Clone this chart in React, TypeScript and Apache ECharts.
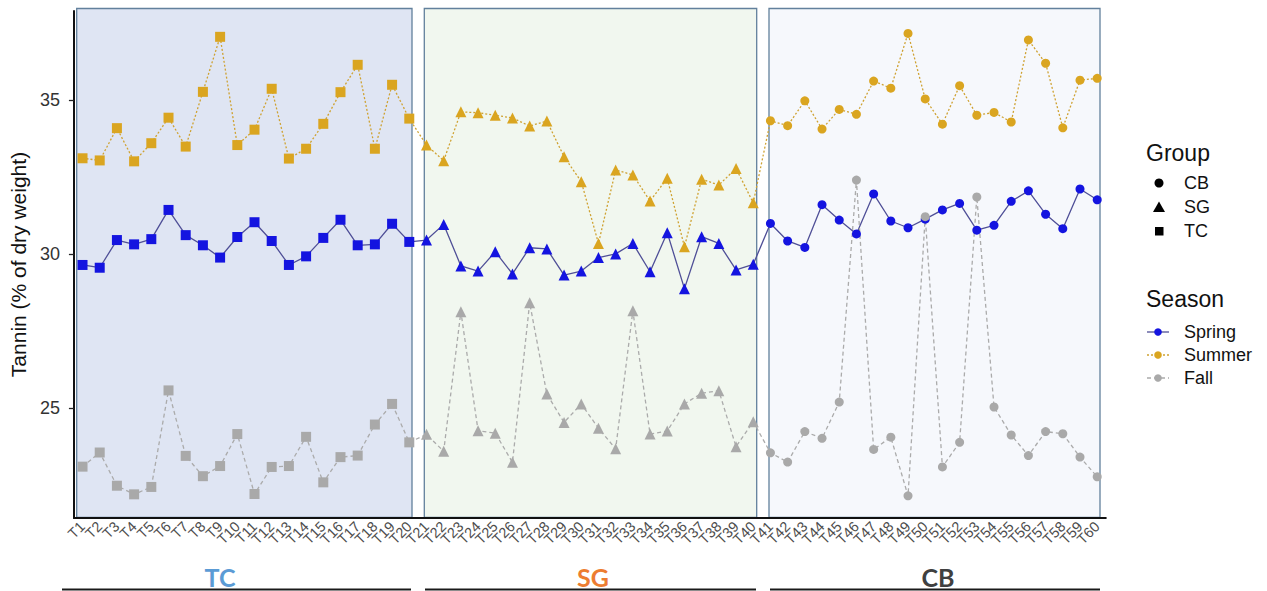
import React, { useEffect, useRef } from "react";
import * as echarts from "echarts";

// Sampling plots, 20 per group
const plots: string[] = Array.from({ length: 60 }, (_, i) => `T${i + 1}`);
const groupNames = ["TC", "SG", "CB"];
const groupSymbols: Record<string, string> = { TC: "rect", SG: "triangle", CB: "circle" };
const groupSymbolSize: Record<string, number> = { TC: 10, SG: 11, CB: 9 };
const plotGroup = (i: number) => groupNames[Math.floor(i / 20)];

// Tannin content (% of dry weight) per season
const spring = [
  29.65, 29.56, 30.46, 30.32, 30.49, 31.44, 30.62, 30.29, 29.89, 30.56,
  31.04, 30.43, 29.65, 29.93, 30.53, 31.12, 30.29, 30.32, 30.99, 30.40,
  30.46, 30.97, 29.62, 29.45, 30.08, 29.36, 30.21, 30.17, 29.32, 29.45,
  29.89, 30.01, 30.35, 29.43, 30.70, 28.88, 30.57, 30.35, 29.49, 29.67,
  31.00, 30.43, 30.22, 31.61, 31.11, 30.66, 31.96, 31.08, 30.86, 31.14,
  31.44, 31.65, 30.78, 30.94, 31.72, 32.06, 31.30, 30.83, 32.12, 31.77,
];
const summer = [
  33.12, 33.05, 34.10, 33.02, 33.61, 34.44, 33.50, 35.28, 37.07, 33.55,
  34.05, 35.38, 33.11, 33.43, 34.24, 35.27, 36.16, 33.43, 35.51, 34.41,
  33.55, 33.04, 34.63, 34.60, 34.52, 34.43, 34.17, 34.33, 33.17, 32.36,
  30.35, 32.74, 32.58, 31.73, 32.47, 30.24, 32.44, 32.25, 32.79, 31.67,
  34.34, 34.18, 34.99, 34.07, 34.71, 34.55, 35.63, 35.40, 37.18, 35.05,
  34.23, 35.48, 34.52, 34.61, 34.30, 36.97, 36.21, 34.11, 35.66, 35.72,
];
const fall = [
  23.09, 23.55, 22.47, 22.19, 22.43, 25.57, 23.44, 22.78, 23.11, 24.15,
  22.20, 23.08, 23.11, 24.06, 22.58, 23.40, 23.45, 24.46, 25.13, 23.88,
  24.14, 23.59, 28.13, 24.26, 24.18, 23.23, 28.42, 25.45, 24.53, 25.13,
  24.34, 23.67, 28.16, 24.15, 24.25, 25.13, 25.48, 25.56, 23.74, 24.55,
  23.54, 23.24, 24.23, 24.01, 25.19, 32.41, 23.65, 24.05, 22.14, 31.22,
  23.08, 23.88, 31.86, 25.03, 24.12, 23.45, 24.23, 24.16, 23.40, 22.76,
];
const yTicks = [25, 30, 35];

const seasons = [
  { name: "Spring", values: spring, line: "#4f4f97", marker: "#1414e0", dash: "solid" as any },
  { name: "Summer", values: summer, line: "#cfa232", marker: "#daa520", dash: [2, 2] },
  { name: "Fall", values: fall, line: "#ababab", marker: "#a9a9a9", dash: [4, 3] },
];

const FONT = "'Liberation Sans', Arial, sans-serif";

export default function App() {
  const ref = useRef<HTMLDivElement>(null);

  useEffect(() => {
    if (!ref.current) return;
    const chart = echarts.init(ref.current, undefined, { renderer: "svg" });

    const series = seasons.map((s) => ({
      type: "line",
      name: s.name,
      z: 3,
      data: s.values.map((v, i) => ({
        value: v,
        symbol: groupSymbols[plotGroup(i)],
        symbolSize: groupSymbolSize[plotGroup(i)],
      })),
      lineStyle: { color: s.line, width: 1.3, type: s.dash },
      itemStyle: { color: s.marker, borderWidth: 0 },
      showAllSymbol: true,
    }));

    const panel = (x1: number, x2: number, fill: string) => ({
      type: "rect",
      z: -5,
      shape: { x: x1, y: 8.5, width: x2 - x1, height: 509 },
      style: { fill, stroke: "#62809c", lineWidth: 1.3 },
    });
    const groupLabel = (x: number, text: string, color: string) => ({
      type: "text",
      z: 10,
      x,
      y: 577,
      style: {
        text,
        fill: color,
        font: "bold 25px Lato, 'Liberation Sans', sans-serif",
        align: "center",
        verticalAlign: "middle",
      },
    });
    const rule = (x1: number, x2: number) => ({
      type: "line",
      z: 10,
      shape: { x1, y1: 589.5, x2, y2: 589.5 },
      style: { stroke: "#1a1a1a", lineWidth: 2 },
    });
    const legendText = (x: number, y: number, text: string, size: number) => ({
      type: "text",
      z: 10,
      x,
      y,
      style: { text, fill: "#111", font: `${size}px ${FONT}`, verticalAlign: "middle" },
    });
    const seasonKey = (y: number, s: (typeof seasons)[number]) => [
      {
        type: "line",
        z: 10,
        shape: { x1: 1147, y1: y, x2: 1169, y2: y },
        style: { stroke: s.line, lineWidth: 1.3, lineDash: s.dash === "solid" ? null : s.dash },
      },
      { type: "circle", z: 11, shape: { cx: 1158, cy: y, r: 3.8 }, style: { fill: s.marker } },
      legendText(1184, y, s.name, 18),
    ];

    chart.setOption({
      animation: false,
      grid: { left: 72.4, top: 11, width: 1033.4, height: 507, containLabel: false },
      xAxis: {
        type: "category",
        data: plots,
        boundaryGap: true,
        axisLine: { lineStyle: { color: "#111", width: 2 } },
        axisTick: { alignWithLabel: true, length: 4, lineStyle: { color: "#222", width: 1.3 } },
        axisLabel: {
          interval: 0,
          rotate: 45,
          margin: 6,
          fontSize: 14.5,
          color: "#4d4d4d",
          fontFamily: FONT,
        },
      },
      yAxis: {
        type: "value",
        min: 21.42,
        max: 37.91,
        splitLine: { show: false },
        axisLine: { show: true, lineStyle: { color: "#111", width: 2 } },
        axisTick: { show: true, length: 5, customValues: yTicks, lineStyle: { color: "#222", width: 1.3 } },
        axisLabel: { customValues: yTicks, fontSize: 18, color: "#333", margin: 14, fontFamily: FONT },
        name: "Tannin (% of dry weight)",
        nameLocation: "middle",
        nameRotate: 90,
        nameGap: 42,
        nameTextStyle: { fontSize: 21, color: "#111", fontFamily: FONT },
      },
      series,
      graphic: [
        panel(76.7, 412, "#dfe5f3"),
        panel(424.3, 756.7, "#f1f7ef"),
        panel(769, 1100, "#f6f8fc"),
        groupLabel(220, "TC", "#5b9bd5"),
        groupLabel(593, "SG", "#ed7d31"),
        groupLabel(938, "CB", "#404040"),
        rule(62, 411),
        rule(425, 756),
        rule(770, 1100),
        legendText(1146, 153, "Group", 23),
        { type: "circle", z: 10, shape: { cx: 1159, cy: 183, r: 4.5 }, style: { fill: "#000" } },
        legendText(1184, 183, "CB", 18),
        {
          type: "polygon",
          z: 10,
          shape: { points: [[1159, 201.5], [1165, 212], [1153, 212]] },
          style: { fill: "#000" },
        },
        legendText(1184, 207, "SG", 18),
        { type: "rect", z: 10, shape: { x: 1155, y: 227, width: 8.5, height: 8.5 }, style: { fill: "#000" } },
        legendText(1184, 231, "TC", 18),
        legendText(1146, 299, "Season", 23),
        ...seasonKey(332, seasons[0]),
        ...seasonKey(355, seasons[1]),
        ...seasonKey(378, seasons[2]),
      ],
    });

    return () => chart.dispose();
  }, []);

  return (
    <div
      ref={ref}
      style={{ position: "fixed", left: 0, top: 0, width: 1267, height: 591, background: "#fff" }}
    />
  );
}
